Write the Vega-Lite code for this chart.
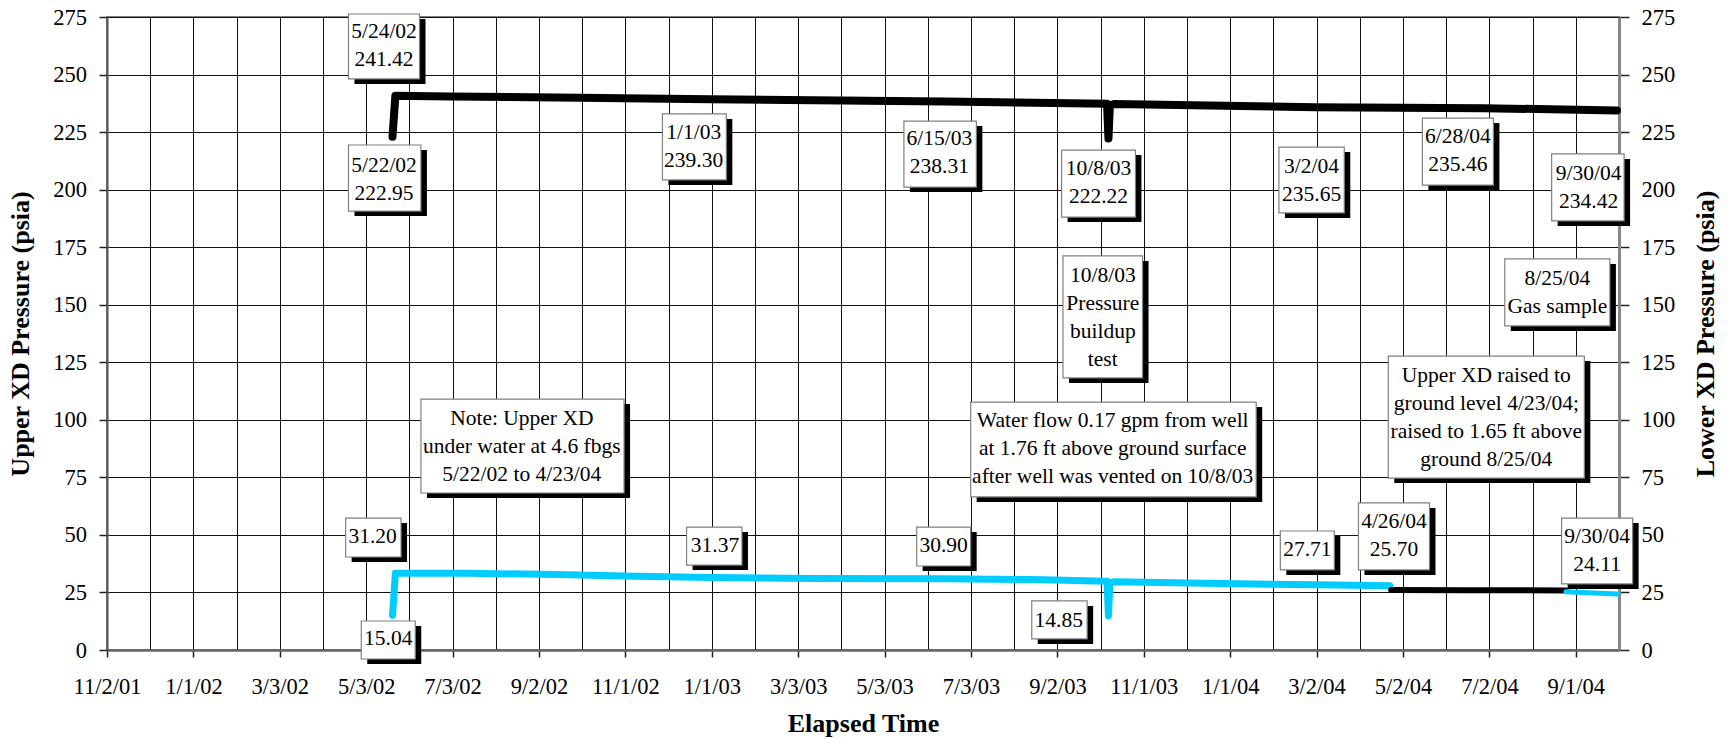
{
  "$schema": "https://vega.github.io/schema/vega-lite/v6.json",
  "width": 1512,
  "height": 633,
  "autosize": "none",
  "padding": {"left": 107, "top": 17, "right": 109, "bottom": 89},
  "background": "white",
  "config": {
    "view": {"stroke": "#808080", "strokeWidth": 2},
    "font": "Liberation Serif",
    "axis": {
      "labelFont": "Liberation Serif",
      "titleFont": "Liberation Serif",
      "labelColor": "black",
      "titleColor": "black",
      "labelFontSize": 22.5,
      "titleFontSize": 26,
      "titleFontWeight": "bold",
      "gridColor": "#111111",
      "gridOpacity": 1,
      "gridWidth": 1,
      "tickColor": "#222222",
      "tickWidth": 1.5,
      "domainColor": "#666666",
      "domainWidth": 2
    }
  },
  "datasets": {
    "upper": [
      {"date": "2002-05-22", "psia": 15.04, "series": "Upper XD under water"},
      {"date": "2002-05-24", "psia": 33.3, "series": "Upper XD under water"},
      {"date": "2002-07-15", "psia": 33.3, "series": "Upper XD under water"},
      {"date": "2002-09-15", "psia": 32.8, "series": "Upper XD under water"},
      {"date": "2002-11-01", "psia": 32.2, "series": "Upper XD under water"},
      {"date": "2003-01-01", "psia": 31.5, "series": "Upper XD under water"},
      {"date": "2003-03-15", "psia": 31.1, "series": "Upper XD under water"},
      {"date": "2003-06-15", "psia": 31.0, "series": "Upper XD under water"},
      {"date": "2003-08-15", "psia": 30.6, "series": "Upper XD under water"},
      {"date": "2003-10-07", "psia": 29.9, "series": "Upper XD under water"},
      {"date": "2003-10-08", "psia": 14.85, "series": "Upper XD under water"},
      {"date": "2003-10-09", "psia": 29.2, "series": "Upper XD under water"},
      {"date": "2003-10-12", "psia": 29.7, "series": "Upper XD under water"},
      {"date": "2003-12-15", "psia": 29.0, "series": "Upper XD under water"},
      {"date": "2004-03-02", "psia": 28.3, "series": "Upper XD under water"},
      {"date": "2004-04-23", "psia": 27.9, "series": "Upper XD under water"},
      {"date": "2004-04-24", "psia": 26.1, "series": "Upper XD at ground level"},
      {"date": "2004-06-15", "psia": 26.0, "series": "Upper XD at ground level"},
      {"date": "2004-08-25", "psia": 25.9, "series": "Upper XD at ground level"},
      {"date": "2004-08-25", "psia": 25.3, "series": "Upper XD above ground"},
      {"date": "2004-09-30", "psia": 24.3, "series": "Upper XD above ground"}
    ],
    "lower": [
      {"date": "2002-05-22", "psia": 222.95},
      {"date": "2002-05-24", "psia": 240.8},
      {"date": "2002-07-01", "psia": 240.5},
      {"date": "2002-10-01", "psia": 239.9},
      {"date": "2003-01-01", "psia": 239.3},
      {"date": "2003-06-15", "psia": 238.3},
      {"date": "2003-10-07", "psia": 237.3},
      {"date": "2003-10-08", "psia": 222.22},
      {"date": "2003-10-09", "psia": 236.6},
      {"date": "2003-10-12", "psia": 237.2},
      {"date": "2004-03-02", "psia": 235.8},
      {"date": "2004-06-28", "psia": 235.4},
      {"date": "2004-09-30", "psia": 234.4}
    ],
    "callouts": [
      {"label": "5/24/02\n241.42", "tx": "2002-05-16", "ty": 268.5, "d1": "2002-04-21", "d2": "2002-06-10", "v1": 248.1, "v2": 276.3},
      {"label": "5/22/02\n222.95", "tx": "2002-05-16", "ty": 210.3, "d1": "2002-04-21", "d2": "2002-06-11", "v1": 190.7, "v2": 219.4},
      {"label": "1/1/03\n239.30", "tx": "2002-12-20", "ty": 224.6, "d1": "2002-11-28", "d2": "2003-01-12", "v1": 204.2, "v2": 232.9},
      {"label": "6/15/03\n238.31", "tx": "2003-06-11", "ty": 222.0, "d1": "2003-05-17", "d2": "2003-07-07", "v1": 201.1, "v2": 229.8},
      {"label": "10/8/03\n222.22", "tx": "2003-10-01", "ty": 209.0, "d1": "2003-09-05", "d2": "2003-10-27", "v1": 188.1, "v2": 217.2},
      {"label": "3/2/04\n235.65", "tx": "2004-02-28", "ty": 209.8, "d1": "2004-02-05", "d2": "2004-03-22", "v1": 189.9, "v2": 218.5},
      {"label": "6/28/04\n235.46", "tx": "2004-06-10", "ty": 222.9, "d1": "2004-05-16", "d2": "2004-07-05", "v1": 202.0, "v2": 231.1},
      {"label": "9/30/04\n234.42", "tx": "2004-09-10", "ty": 206.8, "d1": "2004-08-15", "d2": "2004-10-05", "v1": 186.4, "v2": 215.5},
      {"label": "10/8/03\nPressure\nbuildup\ntest", "tx": "2003-10-04", "ty": 162.5, "d1": "2003-09-06", "d2": "2003-11-01", "v1": 118.2, "v2": 171.2},
      {"label": "8/25/04\nGas sample", "tx": "2004-08-19", "ty": 161.2, "d1": "2004-07-13", "d2": "2004-09-25", "v1": 140.8, "v2": 169.9},
      {"label": "Upper XD raised to\nground level 4/23/04;\nraised to 1.65 ft above\nground 8/25/04", "tx": "2004-06-30", "ty": 119.0, "d1": "2004-04-22", "d2": "2004-09-07", "v1": 74.7, "v2": 127.7},
      {"label": "Water flow 0.17 gpm from well\nat 1.76 ft above ground surface\nafter well was vented on 10/8/03", "tx": "2003-10-11", "ty": 99.5, "d1": "2003-07-03", "d2": "2004-01-20", "v1": 66.5, "v2": 107.7},
      {"label": "Note: Upper XD\nunder water at 4.6 fbgs\n5/22/02 to 4/23/04", "tx": "2002-08-21", "ty": 100.4, "d1": "2002-06-11", "d2": "2002-11-01", "v1": 68.2, "v2": 109.0},
      {"label": "31.20", "tx": "2002-05-08", "ty": 49.1, "d1": "2002-04-19", "d2": "2002-05-28", "v1": 40.4, "v2": 57.3},
      {"label": "15.04", "tx": "2002-05-19", "ty": 4.8, "d1": "2002-04-30", "d2": "2002-06-07", "v1": -3.9, "v2": 12.6},
      {"label": "31.37", "tx": "2003-01-04", "ty": 45.2, "d1": "2002-12-15", "d2": "2003-01-23", "v1": 36.9, "v2": 53.4},
      {"label": "30.90", "tx": "2003-06-14", "ty": 45.2, "d1": "2003-05-26", "d2": "2003-07-03", "v1": 36.5, "v2": 53.4},
      {"label": "14.85", "tx": "2003-09-03", "ty": 12.6, "d1": "2003-08-15", "d2": "2003-09-23", "v1": 4.8, "v2": 21.3},
      {"label": "27.71", "tx": "2004-02-25", "ty": 43.4, "d1": "2004-02-06", "d2": "2004-03-15", "v1": 34.8, "v2": 51.7},
      {"label": "4/26/04\n25.70", "tx": "2004-04-26", "ty": 55.6, "d1": "2004-04-01", "d2": "2004-05-21", "v1": 34.8, "v2": 63.9},
      {"label": "9/30/04\n24.11", "tx": "2004-09-16", "ty": 49.1, "d1": "2004-08-22", "d2": "2004-10-11", "v1": 28.7, "v2": 57.3}
    ]
  },
  "resolve": {"axis": {"y": "independent"}},
  "layer": [
    {
      "data": {"name": "upper", "format": {"parse": {"date": "date"}}},
      "mark": {"type": "line", "strokeCap": "round", "strokeJoin": "round"},
      "encoding": {
        "x": {
          "field": "date",
          "type": "temporal",
          "scale": {"type": "utc", "domain": [1004659200000, 1096624376471], "nice": false},
          "axis": {
            "title": "Elapsed Time",
            "values": [1004659200000, 1007286776471, 1009914352941, 1012541929412, 1015169505882, 1017797082353, 1020424658824, 1023052235294, 1025679811765, 1028307388235, 1030934964706, 1033562541176, 1036190117647, 1038817694118, 1041445270588, 1044072847059, 1046700423529, 1049328000000, 1051955576471, 1054583152941, 1057210729412, 1059838305882, 1062465882353, 1065093458824, 1067721035294, 1070348611765, 1072976188235, 1075603764706, 1078231341176, 1080858917647, 1083486494118, 1086114070588, 1088741647059, 1091369223529, 1093996800000, 1096624376471],
            "grid": true,
            "labelExpr": "round((datum.value - 1004659200000) / 2627576470.588) % 2 == 0 ? utcFormat(datum.value, '%-m/%-d/%y') : ''",
            "labelOverlap": false,
            "labelFlush": false,
            "tickSize": 7,
            "tickOpacity": {"condition": {"test": "round((datum.value - 1004659200000) / 2627576470.588) % 2 == 0", "value": 1}, "value": 0},
            "labelPadding": 18,
            "titlePadding": 13,
            "domainWidth": 2.5
          }
        },
        "y": {
          "field": "psia",
          "type": "quantitative",
          "scale": {"domain": [0, 275], "nice": false, "zero": false},
          "axis": {
            "title": "Upper XD Pressure (psia)",
            "orient": "left",
            "values": [0, 25, 50, 75, 100, 125, 150, 175, 200, 225, 250, 275],
            "grid": true,
            "tickSize": 8,
            "labelPadding": 12.5,
            "titlePadding": 19,
            "domainColor": "#555555"
          }
        },
        "color": {
          "field": "series",
          "type": "nominal",
          "scale": {"domain": ["Upper XD under water", "Upper XD at ground level", "Upper XD above ground"], "range": ["#00CCFF", "#000000", "#00CCFF"]},
          "legend": null
        },
        "strokeWidth": {
          "field": "series",
          "type": "nominal",
          "scale": {"domain": ["Upper XD under water", "Upper XD at ground level", "Upper XD above ground"], "range": [7, 5, 5]},
          "legend": null
        }
      }
    },
    {
      "data": {"name": "lower", "format": {"parse": {"date": "date"}}},
      "mark": {"type": "line", "color": "#000000", "strokeWidth": 8, "strokeCap": "round", "strokeJoin": "round"},
      "encoding": {
        "x": {"field": "date", "type": "temporal", "scale": {"type": "utc", "domain": [1004659200000, 1096624376471], "nice": false}},
        "y": {
          "field": "psia",
          "type": "quantitative",
          "scale": {"domain": [0, 275], "nice": false, "zero": false},
          "axis": {
            "title": "Lower XD Pressure (psia)",
            "orient": "right",
            "values": [0, 25, 50, 75, 100, 125, 150, 175, 200, 225, 250, 275],
            "grid": false,
            "tickSize": 10,
            "labelPadding": 12,
            "titlePadding": 18,
            "titleAngle": 270,
            "titleBaseline": "top",
            "domainColor": "#888888",
            "domainWidth": 3
          }
        }
      }
    },
    {
      "data": {"name": "callouts", "format": {"parse": {"d1": "date", "d2": "date"}}},
      "mark": {"type": "rect", "color": "#000000", "xOffset": 6, "x2Offset": 6, "yOffset": 5, "y2Offset": 5},
      "encoding": {
        "x": {"field": "d1", "type": "temporal", "scale": {"type": "utc", "domain": [1004659200000, 1096624376471], "nice": false}},
        "x2": {"field": "d2"},
        "y": {"field": "v1", "type": "quantitative", "scale": {"domain": [0, 275], "nice": false, "zero": false}, "axis": null},
        "y2": {"field": "v2"}
      }
    },
    {
      "data": {"name": "callouts", "format": {"parse": {"d1": "date", "d2": "date"}}},
      "mark": {"type": "rect", "fill": "#FFFFFF", "stroke": "#808080", "strokeWidth": 1.2},
      "encoding": {
        "x": {"field": "d1", "type": "temporal", "scale": {"type": "utc", "domain": [1004659200000, 1096624376471], "nice": false}},
        "x2": {"field": "d2"},
        "y": {"field": "v1", "type": "quantitative", "scale": {"domain": [0, 275], "nice": false, "zero": false}, "axis": null},
        "y2": {"field": "v2"}
      }
    },
    {
      "data": {"name": "callouts", "format": {"parse": {"tx": "date"}}},
      "mark": {"type": "text", "font": "Liberation Serif", "fontSize": 21.5, "color": "#000000", "align": "center", "baseline": "middle", "lineBreak": "\n", "lineHeight": 28},
      "encoding": {
        "x": {"field": "tx", "type": "temporal", "scale": {"type": "utc", "domain": [1004659200000, 1096624376471], "nice": false}},
        "y": {"field": "ty", "type": "quantitative", "scale": {"domain": [0, 275], "nice": false, "zero": false}, "axis": null},
        "text": {"field": "label"}
      }
    }
  ]
}
